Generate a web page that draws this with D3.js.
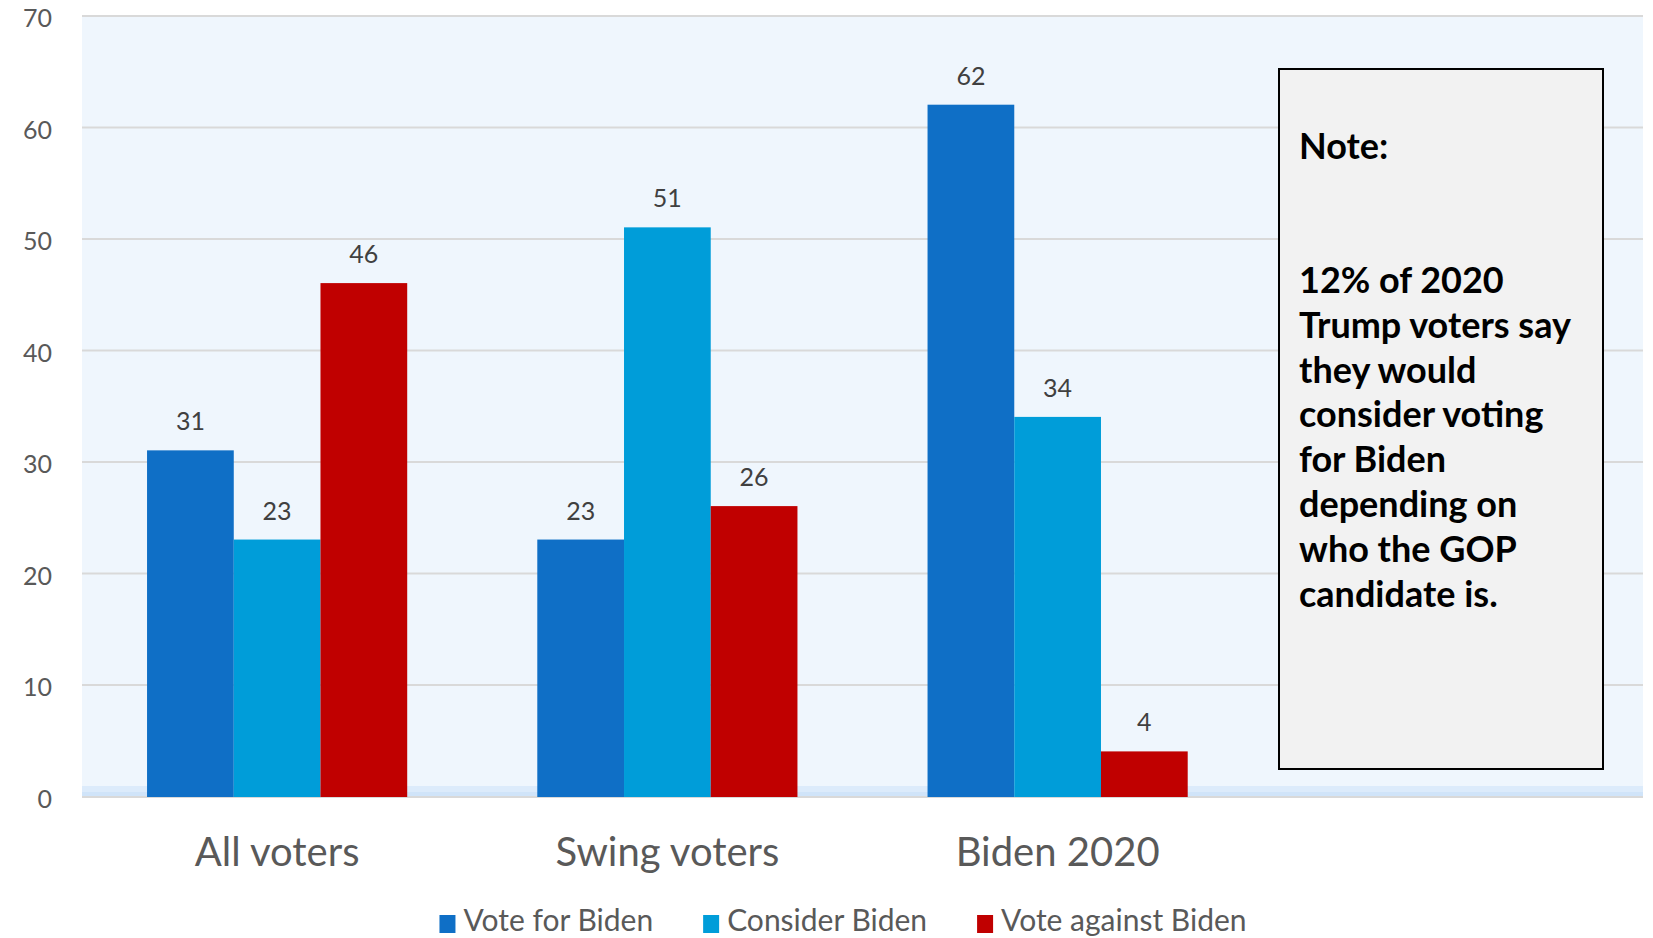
<!DOCTYPE html>
<html>
<head>
<meta charset="utf-8">
<script src="https://cdn.jsdelivr.net/npm/d3@7"></script>
<style>
  html, body { margin: 0; padding: 0; background: #ffffff; }
  svg { display: block; }
  text { font-family: Lato, "Open Sans", sans-serif; }
</style>
</head>
<body>
<svg id="chart" width="1653" height="938"></svg>
<script>
// ---- data ----
const categories = ["All voters", "Swing voters", "Biden 2020"];
const seriesNames = ["Vote for Biden", "Consider Biden", "Vote against Biden"];
const voteForBiden = [31, 23, 62];
const considerBiden = [23, 51, 34];
const voteAgainstBiden = [46, 26, 4];
const yTicks = [0, 10, 20, 30, 40, 50, 60, 70];
const noteTitle = "Note:";
const noteLines = ["12% of 2020", "Trump voters say", "they would", "consider voting",
                   "for Biden", "depending on", "who the GOP", "candidate is."];

const seriesColors = ["#0f6fc6", "#009dd9", "#c00000"];
const seriesValues = [voteForBiden, considerBiden, voteAgainstBiden];

// ---- layout ----
const svg = d3.select("#chart");
const plot = { left: 82, right: 1643, top: 15.5, bottom: 796 };
const plotW = plot.right - plot.left;

// 4 slots across plot; the 4th holds the note box
const x0 = d3.scaleBand()
  .domain(categories)
  .range([plot.left, plot.left + plotW * 3 / 4])
  .paddingInner(1 / 3)
  .paddingOuter(1 / 6);
const x1 = d3.scaleBand()
  .domain(seriesNames)
  .range([0, x0.bandwidth()])
  .padding(0);
const y = d3.scaleLinear().domain([0, 70]).range([plot.bottom, plot.top]);

// plot background
svg.append("rect")
  .attr("x", plot.left).attr("y", plot.top)
  .attr("width", plotW).attr("height", plot.bottom - plot.top)
  .attr("fill", "#eff6fd");
// floor band
svg.append("rect")
  .attr("x", plot.left).attr("y", plot.bottom - 10)
  .attr("width", plotW).attr("height", 10)
  .attr("fill", "#dcebfb");
svg.append("rect")
  .attr("x", plot.left).attr("y", plot.bottom - 4)
  .attr("width", plotW).attr("height", 4)
  .attr("fill", "#d0e4f9");

// gridlines
const grid = svg.append("g")
  .attr("transform", `translate(${plot.left},0)`)
  .call(d3.axisLeft(y).tickValues(yTicks.filter(d => d > 0)).tickSize(-plotW).tickFormat(""));
grid.select(".domain").remove();
grid.selectAll(".tick line").attr("stroke", "#d9d9d9").attr("stroke-width", 2);

// baseline
svg.append("line")
  .attr("x1", plot.left).attr("x2", plot.right)
  .attr("y1", y(0) + 1).attr("y2", y(0) + 1)
  .attr("stroke", "#d9d9d9").attr("stroke-width", 2);

// y axis labels
const yAxis = svg.append("g")
  .attr("transform", `translate(52,0)`)
  .call(d3.axisLeft(y).tickValues(yTicks).tickSize(0).tickPadding(0));
yAxis.select(".domain").remove();
yAxis.selectAll("text")
  .attr("font-family", "Lato, sans-serif")
  .attr("font-size", 25)
  .attr("fill", "#595959")
  .attr("dy", "0.45em")
  .attr("text-anchor", "end");

// bars
const groups = svg.append("g").selectAll("g")
  .data(categories)
  .join("g")
  .attr("transform", d => `translate(${x0(d)},0)`);

groups.selectAll("rect")
  .data((c, i) => seriesNames.map((s, j) => ({ s, v: seriesValues[j][i], color: seriesColors[j] })))
  .join("rect")
  .attr("x", d => x1(d.s))
  .attr("y", d => y(d.v))
  .attr("width", x1.bandwidth())
  .attr("height", d => y(0) - y(d.v) + 1)
  .attr("fill", d => d.color);

groups.selectAll("text")
  .data((c, i) => seriesNames.map((s, j) => ({ s, v: seriesValues[j][i] })))
  .join("text")
  .attr("x", d => x1(d.s) + x1.bandwidth() / 2)
  .attr("y", d => y(d.v) - 20)
  .attr("text-anchor", "middle")
  .attr("font-size", 25)
  .attr("fill", "#404040")
  .text(d => d.v);

// x axis labels
const xAxis = svg.append("g")
  .attr("transform", `translate(0,${plot.bottom})`)
  .call(d3.axisBottom(x0).tickSize(0).tickPadding(0));
xAxis.select(".domain").remove();
xAxis.selectAll("text")
  .attr("font-family", "Lato, sans-serif")
  .attr("font-size", 40)
  .attr("fill", "#595959")
  .attr("dy", 0)
  .attr("y", 70);

// note box
const note = svg.append("g");
note.append("rect")
  .attr("x", 1279).attr("y", 69)
  .attr("width", 324).attr("height", 700)
  .attr("fill", "#f2f2f2")
  .attr("stroke", "#000000").attr("stroke-width", 2);
note.append("text")
  .attr("x", 1299).attr("y", 159)
  .attr("font-size", 36).attr("font-weight", "bold").attr("fill", "#000")
  .text(noteTitle);
note.selectAll("text.line")
  .data(noteLines)
  .join("text")
  .attr("class", "line")
  .attr("x", 1299)
  .attr("y", (d, i) => 293 + i * 44.8)
  .attr("font-size", 36).attr("font-weight", "bold").attr("fill", "#000")
  .text(d => d);

// legend
const legend = svg.append("g");
const items = legend.selectAll("g")
  .data(seriesNames)
  .join("g");
items.append("rect")
  .attr("width", 16).attr("height", 18)
  .attr("y", -16)
  .attr("fill", (d, i) => seriesColors[i]);
items.append("text")
  .attr("x", 24)
  .attr("y", 0)
  .attr("font-size", 30)
  .attr("fill", "#595959")
  .text(d => d);
let widths = [];
items.each(function () { widths.push(this.getBBox().width); });
const gap = 50;
const total = d3.sum(widths) + gap * (widths.length - 1);
let cx = 843 - total / 2;
items.attr("transform", (d, i) => {
  const t = `translate(${cx},931)`;
  cx += widths[i] + gap;
  return t;
});
</script>
</body>
</html>
